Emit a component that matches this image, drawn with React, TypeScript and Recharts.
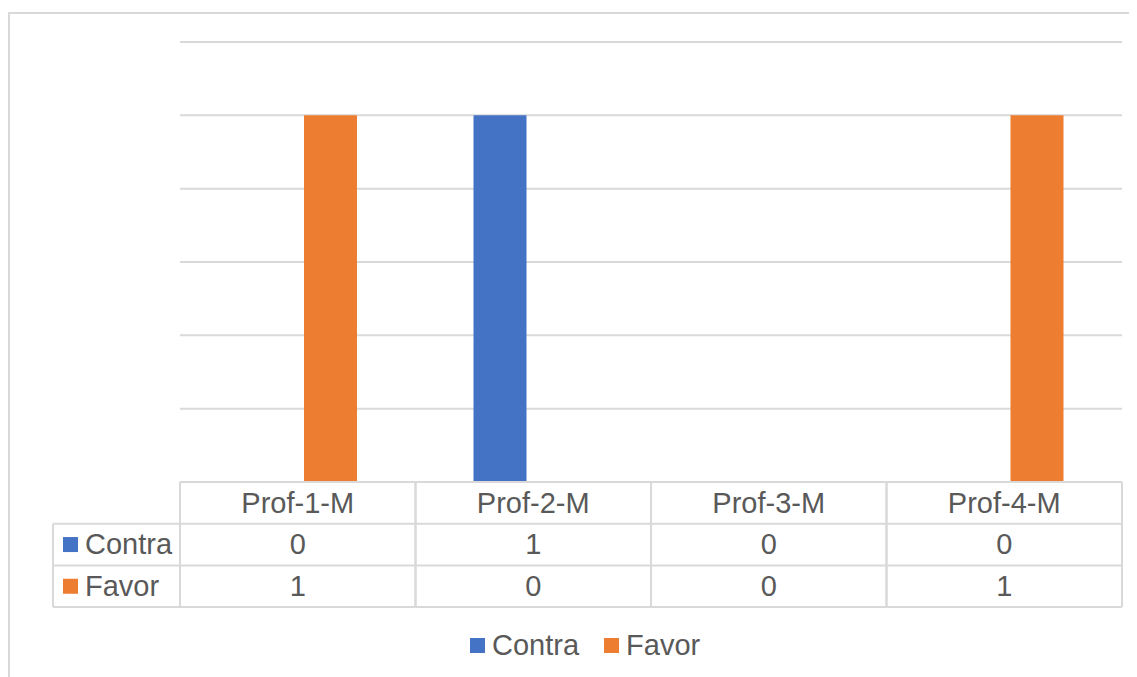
import { BarChart, Bar, XAxis, YAxis, CartesianGrid, Legend } from "recharts";

// votos por profesor
const PROFESORES = ["Prof-1-M", "Prof-2-M", "Prof-3-M", "Prof-4-M"];
const CONTRA = [0, 1, 0, 0];
const FAVOR = [1, 0, 0, 1];
const TICKS_Y = [0, 0.2, 0.4, 0.6, 0.8, 1, 1.2];

const SERIES = [
  { key: "Contra", color: "#4472C4", values: CONTRA },
  { key: "Favor", color: "#ED7D31", values: FAVOR },
];

const data = PROFESORES.map((name, i) => ({ name, Contra: CONTRA[i], Favor: FAVOR[i] }));

const FUENTE = "'Liberation Sans', Arial, sans-serif";
const GRIS_TEXTO = "#595959";
const GRIS_LINEA = "#d9d9d9";

const ANCHO = 1129;
const ALTO = 670;
const MARGEN = { top: 30, right: 15, left: 172, bottom: 75 };
const BANDA = (ANCHO - MARGEN.left - MARGEN.right) / PROFESORES.length;
const FILA = 41.7;
const COL_LEYENDA = 127;
const TAM_FUENTE = 29;

// tabla de datos debajo del eje: encabezado + una fila por serie
const TablaTick = (props: any) => {
  const { x, y, payload } = props;
  const i = payload.index;
  const mitad = payload.offset > 0 ? payload.offset : BANDA / 2;
  const izq = x - mitad;
  const der = x + mitad;
  const filas = SERIES.length + 1;

  return (
    <g fontFamily={FUENTE} fontSize={TAM_FUENTE} fill={GRIS_TEXTO}>
      {Array.from({ length: filas + 1 }).map((_, r) => (
        <line key={`h-${r}`} x1={izq} x2={der} y1={y + r * FILA} y2={y + r * FILA} stroke={GRIS_LINEA} strokeWidth={2} />
      ))}
      <line x1={der} x2={der} y1={y} y2={y + filas * FILA} stroke={GRIS_LINEA} strokeWidth={2} />
      <line x1={izq} x2={izq} y1={y} y2={y + filas * FILA} stroke={GRIS_LINEA} strokeWidth={2} />
      <text x={x} y={y + 30.5} textAnchor="middle">{payload.value}</text>
      {SERIES.map((s, r) => (
        <text key={s.key} x={x} y={y + (r + 1) * FILA + 30.5} textAnchor="middle">
          {s.values[i]}
        </text>
      ))}

      {/* columna con las claves de cada serie */}
      {i === 0 && (
        <g>
          {SERIES.map((s, r) => (
            <g key={`k-${s.key}`}>
              <rect x={izq - COL_LEYENDA + 10} y={y + (r + 1) * FILA + FILA / 2 - 7.5} width={15} height={15} fill={s.color} />
              <text x={izq - COL_LEYENDA + 32} y={y + (r + 1) * FILA + 30.5}>{s.key}</text>
            </g>
          ))}
          {Array.from({ length: SERIES.length + 1 }).map((_, r) => (
            <line key={`kh-${r}`} x1={izq - COL_LEYENDA} x2={izq} y1={y + (r + 1) * FILA} y2={y + (r + 1) * FILA} stroke={GRIS_LINEA} strokeWidth={2} />
          ))}
          <line x1={izq - COL_LEYENDA} x2={izq - COL_LEYENDA} y1={y + FILA} y2={y + filas * FILA} stroke={GRIS_LINEA} strokeWidth={2} />
        </g>
      )}
    </g>
  );
};

const LeyendaInferior = ({ payload }: any) => (
  <div style={{ display: "flex", alignItems: "center", fontFamily: FUENTE, fontSize: TAM_FUENTE, color: GRIS_TEXTO }}>
    {(payload ?? []).map((e: any) => (
      <span key={e.value} style={{ display: "flex", alignItems: "center", marginRight: 25 }}>
        <span style={{ display: "inline-block", width: 15, height: 15, background: e.color, marginRight: 7 }} />
        {e.value}
      </span>
    ))}
  </div>
);

export default function App() {
  return (
    <>
      <style>{"body{overflow:hidden}"}</style>
      <div style={{ position: "relative", top: 4, width: ANCHO + 20, height: ALTO, background: "#fff" }}>
        {/* marco del área del gráfico (solo se ven los bordes superior e izquierdo) */}
        <div
          style={{
            position: "absolute",
            left: 0,
            top: 0,
            width: "100%",
            height: "100%",
            borderTop: `2px solid ${GRIS_LINEA}`,
            borderLeft: `2px solid ${GRIS_LINEA}`,
            boxSizing: "border-box",
          }}
        />
        <div style={{ position: "absolute", left: 0, top: 0 }}>
          <BarChart width={ANCHO} height={ALTO} data={data} margin={MARGEN} barSize={53} barGap={13}>
            <CartesianGrid vertical={false} stroke={GRIS_LINEA} strokeWidth={2} />
            <XAxis
              dataKey="name"
              height={125}
              axisLine={false}
              tickLine={false}
              tickSize={0}
              tickMargin={0}
              interval={0}
              tick={<TablaTick />}
            />
            <YAxis hide domain={[0, 1.2]} ticks={TICKS_Y} />
            <Legend
              layout="horizontal"
              verticalAlign="middle"
              align="center"
              content={<LeyendaInferior />}
              wrapperStyle={{ left: 462, top: 617, width: 320 }}
            />
            {SERIES.map((s) => (
              <Bar key={s.key} dataKey={s.key} fill={s.color} isAnimationActive={false} />
            ))}
          </BarChart>
        </div>
      </div>
    </>
  );
}
